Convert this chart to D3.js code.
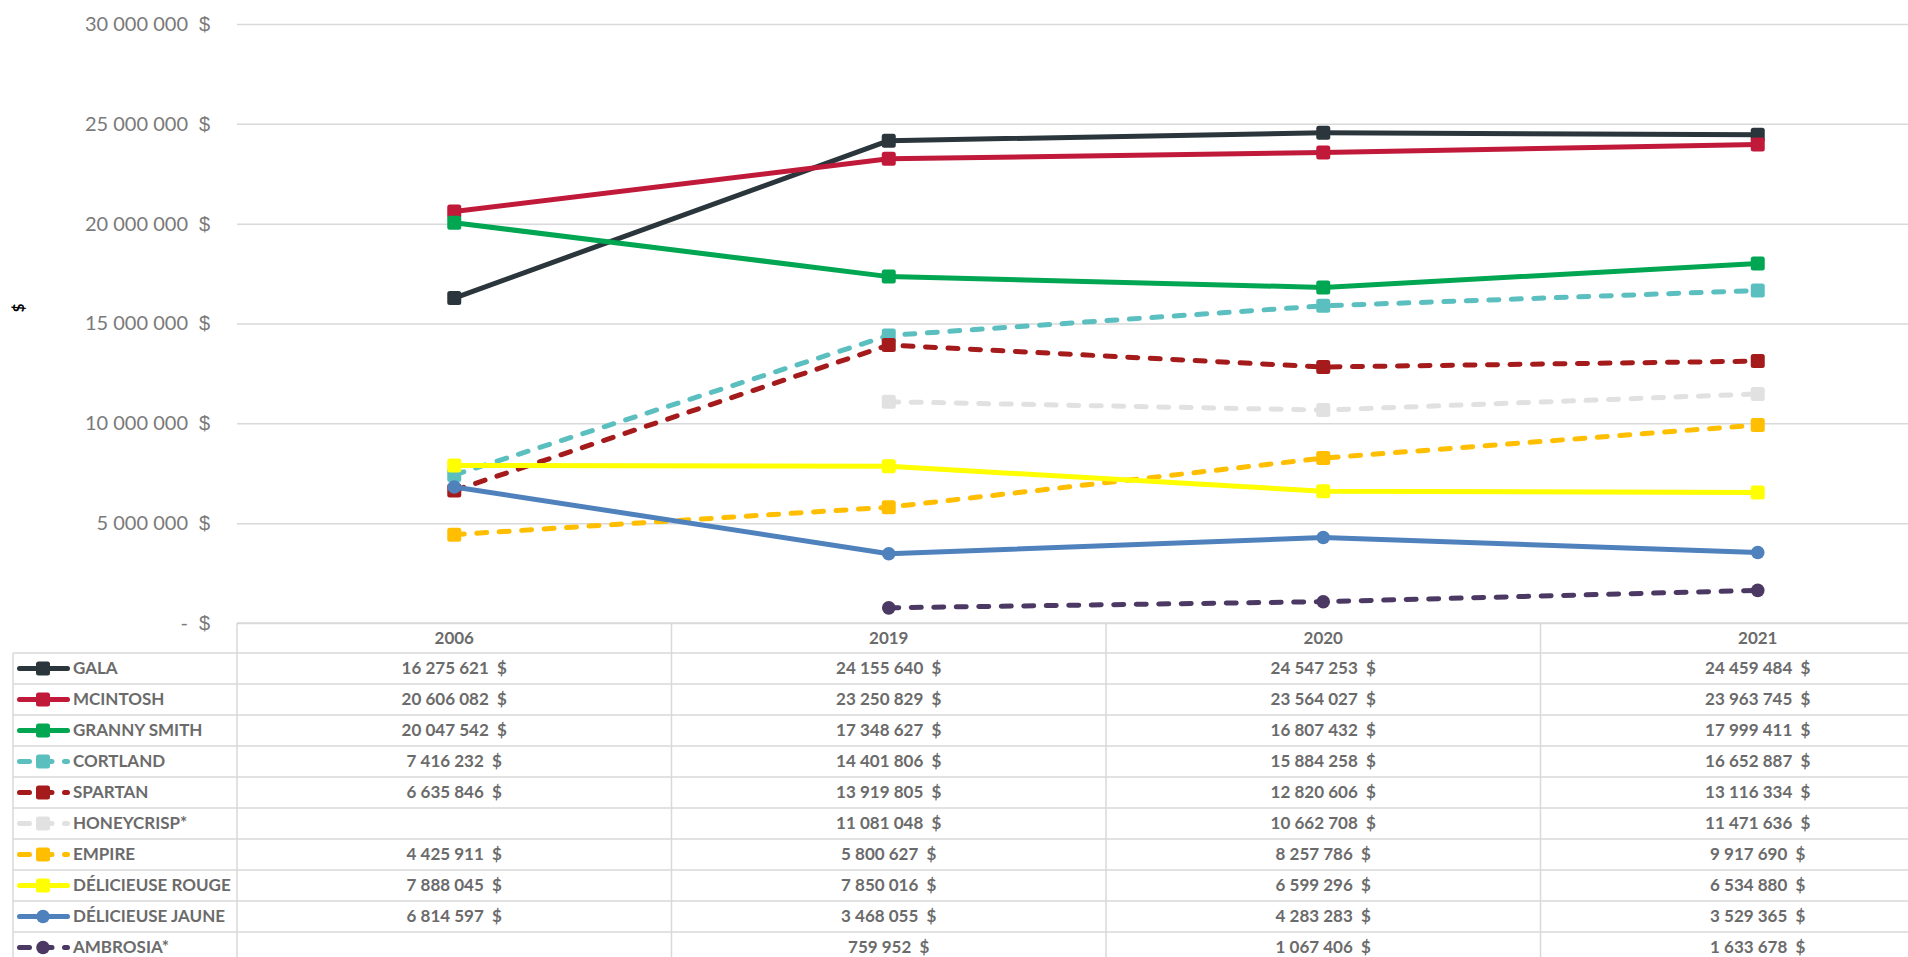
<!DOCTYPE html>
<html>
<head>
<meta charset="utf-8">
<script src="https://cdn.jsdelivr.net/npm/d3@7"></script>
<style>
  body { margin: 0; background: #fff; overflow: hidden; }
  svg { display: block; font-family: Lato, "Open Sans", sans-serif; }
</style>
</head>
<body>
<svg id="chart" width="1908" height="957"></svg>
<script>
// data
var years = ["2006", "2019", "2020", "2021"];

var varieties = ["GALA", "MCINTOSH", "GRANNY SMITH", "CORTLAND", "SPARTAN",
  "HONEYCRISP*", "EMPIRE", "DÉLICIEUSE ROUGE", "DÉLICIEUSE JAUNE", "AMBROSIA*"];

var gala        = [16275621, 24155640, 24547253, 24459484];
var mcintosh    = [20606082, 23250829, 23564027, 23963745];
var grannySmith = [20047542, 17348627, 16807432, 17999411];
var cortland    = [7416232, 14401806, 15884258, 16652887];
var spartan     = [6635846, 13919805, 12820606, 13116334];
var honeycrisp  = [null, 11081048, 10662708, 11471636];
var empire      = [4425911, 5800627, 8257786, 9917690];
var deliRouge   = [7888045, 7850016, 6599296, 6534880];
var deliJaune   = [6814597, 3468055, 4283283, 3529365];
var ambrosia    = [null, 759952, 1067406, 1633678];

var yTicks = [0, 5000000, 10000000, 15000000, 20000000, 25000000, 30000000];
var yTickLabels = ["-", "5 000 000", "10 000 000", "15 000 000", "20 000 000", "25 000 000", "30 000 000"];

// styles per series (same order as varieties)
var colors = ["#2a363b", "#c0193a", "#00a651", "#5bbfc0", "#a51b1b",
  "#e1e1e1", "#ffbf00", "#ffff00", "#4f81bd", "#4b3963"];
var dashed = [false, false, false, true, true, true, true, false, false, true];
var markers = ["square", "square", "square", "square", "square",
  "square", "square", "square", "circle", "circle"];

var values = [gala, mcintosh, grannySmith, cortland, spartan,
  honeycrisp, empire, deliRouge, deliJaune, ambrosia];

var series = varieties.map(function(name, i){
  return { name: name, values: values[i], color: colors[i], dashed: dashed[i], marker: markers[i] };
});

// layout
var plotLeft = 237, colW = 434.5;
var yTop = 24, yZero = 623;
var headH = 30, rowH = 31;
var legendLeft = 13;
var gridColor = "#d9d9d9";
var axisColor = "#7a7a7a";
var textColor = "#6b6b6b";
var lineW = 5;
var dash = "10 12.5";

var svg = d3.select("#chart");

var x = d3.scaleBand().domain(years).range([plotLeft, plotLeft + colW * years.length]);
var y = d3.scaleLinear().domain([0, 30000000]).range([yZero, yTop]);

function cx(yr){ return x(yr) + x.bandwidth() / 2; }

// gridlines
svg.append("g")
  .attr("transform", "translate(" + plotLeft + ",0)")
  .call(d3.axisLeft(y).tickValues(yTicks).tickSize(-(1908 - plotLeft)).tickFormat(""))
  .call(function(g){
    g.select(".domain").remove();
    g.selectAll("line").attr("stroke", gridColor).attr("stroke-width", 1.5);
  });

// y tick labels: number then "$"
var yAxis = svg.append("g")
  .attr("transform", "translate(188,0)")
  .call(d3.axisLeft(y).tickValues(yTicks).tickSize(0).tickPadding(0)
    .tickFormat(function(d, i){ return yTickLabels[i]; }))
  .call(function(g){
    g.select(".domain").remove();
    g.selectAll("text")
      .attr("fill", axisColor)
      .style("font-size", "20px")
      .style("font-family", "Lato, sans-serif");
  });
yAxis.selectAll(".tick").append("text")
  .attr("x", 22).attr("dy", "0.32em")
  .attr("text-anchor", "end")
  .attr("fill", axisColor)
  .style("font-size", "20px")
  .text("$");

// y axis title
svg.append("text")
  .attr("transform", "translate(24,308) rotate(-90)")
  .attr("text-anchor", "middle")
  .style("font-size", "15px")
  .style("font-weight", "bold")
  .attr("fill", "#000")
  .text("$");

// lines
var line = d3.line()
  .defined(function(d){ return d != null; })
  .x(function(d, i){ return cx(years[i]); })
  .y(function(d){ return y(d); });

function drawMarker(g, kind, px, py, color){
  if(kind == "circle"){
    g.append("circle").attr("cx", px).attr("cy", py).attr("r", 6.8).attr("fill", color);
  } else {
    g.append("rect").attr("x", px - 7).attr("y", py - 7)
      .attr("width", 14).attr("height", 14).attr("rx", 2.5).attr("fill", color);
  }
}

var lines = svg.append("g");
series.forEach(function(s){
  var g = lines.append("g");
  g.append("path")
    .attr("d", line(s.values))
    .attr("fill", "none")
    .attr("stroke", s.color)
    .attr("stroke-width", lineW)
    .attr("stroke-linecap", "round")
    .attr("stroke-linejoin", "round")
    .attr("stroke-dasharray", s.dashed ? dash : null);
  s.values.forEach(function(v, i){
    if(v == null) return;
    drawMarker(g, s.marker, cx(years[i]), y(v), s.color);
  });
});

// data table
var table = svg.append("g");
var tableBottom = headH + yZero + rowH * series.length;
var rowsTop = yZero + headH;

table.append("line")
  .attr("x1", plotLeft).attr("x2", 1908).attr("y1", yZero).attr("y2", yZero)
  .attr("stroke", gridColor).attr("stroke-width", 1.5);
d3.range(series.length + 1).forEach(function(i){
  table.append("line")
    .attr("x1", legendLeft).attr("x2", 1908)
    .attr("y1", rowsTop + rowH * i).attr("y2", rowsTop + rowH * i)
    .attr("stroke", gridColor).attr("stroke-width", 1.5);
});
table.append("line")
  .attr("x1", legendLeft).attr("x2", legendLeft).attr("y1", rowsTop).attr("y2", tableBottom)
  .attr("stroke", gridColor).attr("stroke-width", 1.5);
years.forEach(function(yr){
  table.append("line")
    .attr("x1", x(yr)).attr("x2", x(yr)).attr("y1", yZero).attr("y2", tableBottom)
    .attr("stroke", gridColor).attr("stroke-width", 1.5);
});

// header
table.selectAll(".yr").data(years).enter().append("text")
  .attr("x", function(d){ return cx(d); })
  .attr("y", yZero + headH / 2)
  .attr("dy", "0.35em")
  .attr("text-anchor", "middle")
  .attr("fill", textColor)
  .style("font-size", "17px").style("font-weight", "bold")
  .text(function(d){ return d; });

function money(v){
  return d3.format(",")(v).replace(/,/g, "\u00a0") + "\u00a0\u00a0$";
}

series.forEach(function(s, r){
  var cy = rowsTop + rowH * r + rowH / 2;
  var key = table.append("g");
  var kx1 = 19.5, kx2 = 67.5;
  key.append("line")
    .attr("x1", kx1).attr("x2", kx2).attr("y1", cy).attr("y2", cy)
    .attr("stroke", s.color).attr("stroke-width", lineW)
    .attr("stroke-linecap", "round")
    .attr("stroke-dasharray", s.dashed ? dash : null);
  drawMarker(key, s.marker, 43, cy, s.color);
  table.append("text")
    .attr("x", 73).attr("y", cy).attr("dy", "0.35em")
    .attr("fill", textColor)
    .style("font-size", "17px").style("font-weight", "bold")
    .text(s.name);
  s.values.forEach(function(v, i){
    if(v == null) return;
    table.append("text")
      .attr("x", cx(years[i])).attr("y", cy).attr("dy", "0.35em")
      .attr("text-anchor", "middle")
      .attr("fill", textColor)
      .style("font-size", "17px").style("font-weight", "bold")
      .text(money(v));
  });
});
</script>
</body>
</html>
